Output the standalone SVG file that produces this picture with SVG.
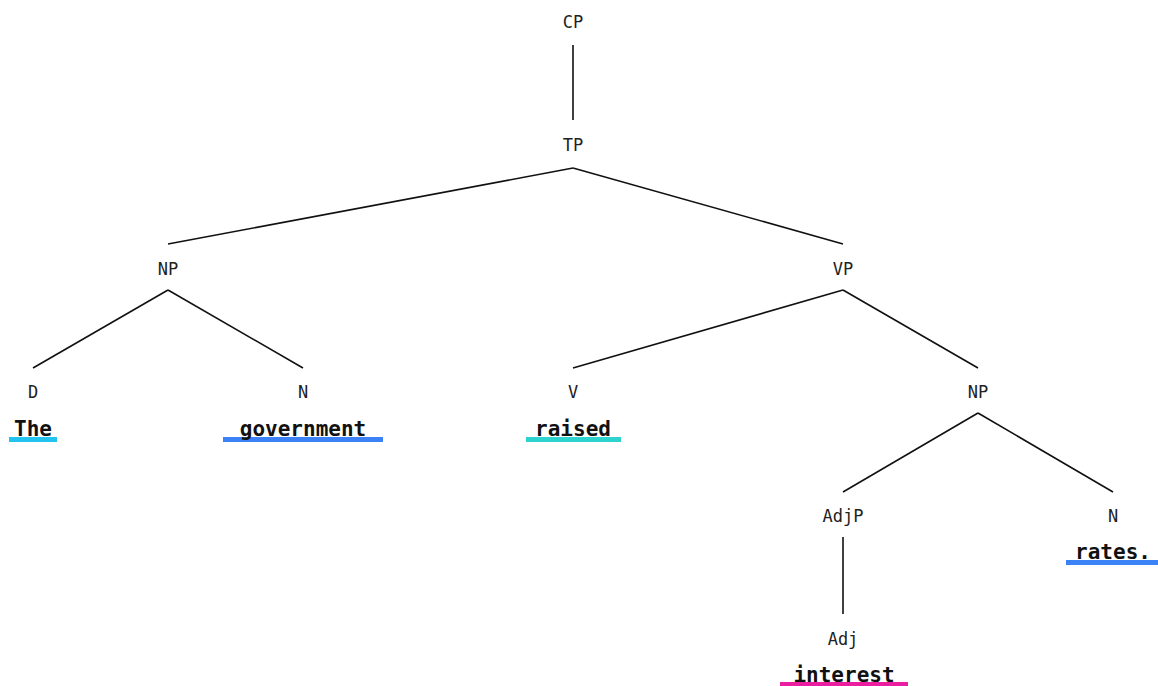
<svg xmlns="http://www.w3.org/2000/svg" width="1158" height="686" viewBox="0 0 1158 686">
  <style>
    .lbl { font-family: "DejaVu Sans Mono", "Liberation Mono", monospace; font-size: 17px; fill: #222; text-anchor: middle; }
    .word { font-family: "DejaVu Sans Mono", "Liberation Mono", monospace; font-size: 21px; font-weight: bold; fill: #111; text-anchor: middle; }
    .edge { stroke: #111; stroke-width: 1.6; fill: none; }
    .ul { stroke: none; }
  </style>
  <rect width="1158" height="686" fill="#ffffff"/>

  <!-- tree branches -->
  <g id="connectors">
    <line class="edge" x1="573" y1="45" x2="573" y2="120"/>
    <line class="edge" x1="573" y1="168" x2="168" y2="244"/>
    <line class="edge" x1="573" y1="168" x2="843" y2="244"/>
    <line class="edge" x1="168" y1="290" x2="33" y2="368"/>
    <line class="edge" x1="168" y1="290" x2="303" y2="368"/>
    <line class="edge" x1="843" y1="290" x2="573" y2="368"/>
    <line class="edge" x1="843" y1="290" x2="978" y2="368"/>
    <line class="edge" x1="978" y1="413" x2="843" y2="492"/>
    <line class="edge" x1="978" y1="413" x2="1113" y2="492"/>
    <line class="edge" x1="843" y1="537" x2="843" y2="614"/>
  </g>

  <!-- phrase nodes -->
  <g id="cp"><text class="lbl" x="573" y="28">CP</text></g>
  <g id="tp"><text class="lbl" x="573" y="151">TP</text></g>
  <g id="np-subj"><text class="lbl" x="168" y="275">NP</text></g>
  <g id="vp"><text class="lbl" x="843" y="275">VP</text></g>
  <g id="np-obj"><text class="lbl" x="978" y="398">NP</text></g>
  <g id="adjp"><text class="lbl" x="843" y="522">AdjP</text></g>

  <!-- terminal nodes with highlighted words -->
  <g id="d-the">
    <text class="lbl" x="33" y="398">D</text>
    <rect class="ul" x="9" y="437" width="48" height="5" fill="#22c3ee"/>
    <text class="word" x="33" y="436">The</text>
  </g>
  <g id="n-government">
    <text class="lbl" x="303" y="398">N</text>
    <rect class="ul" x="223" y="437" width="160" height="5" fill="#3b82f6"/>
    <text class="word" x="303" y="436">government</text>
  </g>
  <g id="v-raised">
    <text class="lbl" x="573" y="398">V</text>
    <rect class="ul" x="526" y="437" width="95" height="5" fill="#2dd4cf"/>
    <text class="word" x="573" y="436">raised</text>
  </g>
  <g id="n-rates">
    <text class="lbl" x="1113" y="522">N</text>
    <rect class="ul" x="1066" y="560" width="94" height="5" fill="#3b82f6"/>
    <text class="word" x="1113" y="559">rates.</text>
  </g>
  <g id="adj-interest">
    <text class="lbl" x="843" y="645">Adj</text>
    <rect class="ul" x="780" y="682" width="128" height="5" fill="#ec1ea0"/>
    <text class="word" x="844" y="682">interest</text>
  </g>
</svg>
